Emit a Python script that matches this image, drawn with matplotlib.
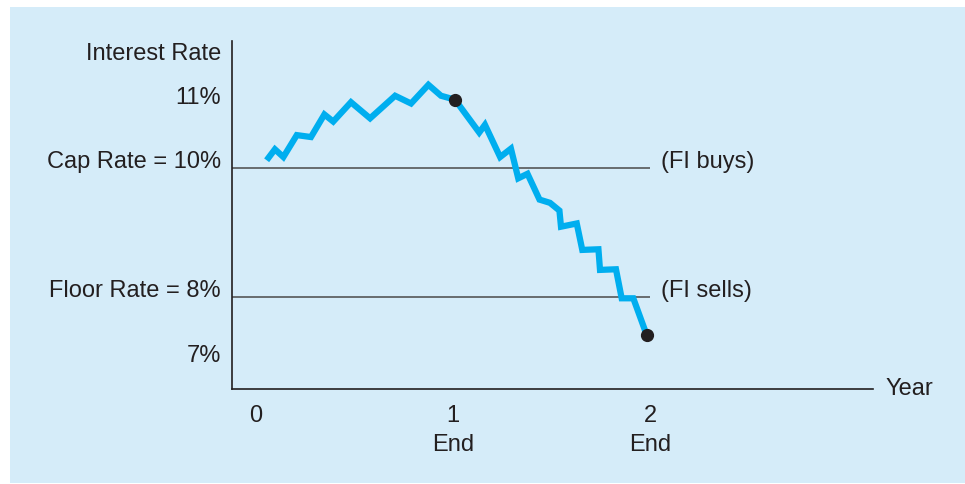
import matplotlib
matplotlib.use("Agg")
import matplotlib.pyplot as plt
from matplotlib.patches import Rectangle

plt.rcParams['font.family'] = ['Liberation Sans', 'DejaVu Sans']

# Data: years vs interest rate (%)
years = [0.054, 0.096, 0.139, 0.207, 0.279, 0.347, 0.392, 0.482, 0.579, 0.706,
         0.787, 0.875, 0.939, 1.01, 1.133, 1.162, 1.239, 1.294, 1.331, 1.378,
         1.439, 1.492, 1.54, 1.548, 1.628, 1.656, 1.738, 1.746, 1.827, 1.856,
         1.915, 1.983]
rates = [10.12, 10.29, 10.17, 10.51, 10.48, 10.83, 10.72, 11.02, 10.77, 11.12,
         11.00, 11.29, 11.12, 11.06, 10.55, 10.67, 10.17, 10.30, 9.84, 9.91,
         9.51, 9.46, 9.34, 9.09, 9.14, 8.73, 8.74, 8.42, 8.43, 7.98,
         7.98, 7.41]
marked_years = [1.01, 1.983]
marked_rates = [11.06, 7.41]

cap_rate = 10
floor_rate = 8
ref_end_year = 2.0

xtick_values = [0, 1, 2]
xtick_labels = ['0', '1', '2']
xtick_sublabels = ['', 'End', 'End']
ytick_values = [11, 10, 8, 7]
ytick_labels = ['11%', 'Cap Rate = 10%', 'Floor Rate = 8%', '7%']
ref_labels = ['(FI buys)', '(FI sells)']

TEXT = '#231F20'
BG = '#D5ECF9'
LINE = '#00AEEF'
FS = 17

W, H = 965, 484
fig = plt.figure(figsize=(W / 100, H / 100), dpi=100)
fig.patch.set_facecolor('white')
bg = Rectangle((10 / W, 1 / H), 955 / W, 476 / H,
               transform=fig.transFigure, facecolor=BG,
               edgecolor='none', zorder=-10)
fig.add_artist(bg)

ax = fig.add_axes([232 / W, (H - 389) / H, (872.7 - 232) / W, (389 - 41) / H])
ax.set_zorder(5)
ax.set_facecolor('none')
ax.set_xlim(-0.1218, 3.130)
ax.set_ylim(10 - (389 - 168) / 64.5, 10 + (168 - 41) / 64.5)

for s in ['top', 'right']:
    ax.spines[s].set_visible(False)
for s in ['left', 'bottom']:
    ax.spines[s].set_color(TEXT)
    ax.spines[s].set_linewidth(1.2)
ax.set_xticks([])
ax.set_yticks([])

# reference lines
ax.hlines([cap_rate, floor_rate], ax.get_xlim()[0], ref_end_year,
          color='#4a4a4a', linewidth=1.1, zorder=1)

# rate path
ax.plot(years, rates, color=LINE, linewidth=4.5, solid_joinstyle='miter',
        solid_capstyle='butt', zorder=2)
ax.plot(marked_years, marked_rates, 'o', color=TEXT, markersize=8.5, zorder=3)

# y labels
for yv, lab in zip(ytick_values, ytick_labels):
    ax.annotate(lab, xy=(0, yv), xycoords=('axes fraction', 'data'),
                xytext=(-8, 0), textcoords='offset points',
                ha='right', va='baseline', fontsize=FS, color=TEXT,
                annotation_clip=False)
ax.annotate('Interest Rate', xy=(0, 1), xycoords='axes fraction',
            xytext=(-8, -13.5), textcoords='offset points',
            ha='right', va='baseline', fontsize=FS, color=TEXT,
            annotation_clip=False)

# x labels
for xv, lab, sub in zip(xtick_values, xtick_labels, xtick_sublabels):
    ax.annotate(lab, xy=(xv, 0), xycoords=('data', 'axes fraction'),
                xytext=(0, -23.5), textcoords='offset points',
                ha='center', va='baseline', fontsize=FS, color=TEXT,
                annotation_clip=False)
    if sub:
        ax.annotate(sub, xy=(xv, 0), xycoords=('data', 'axes fraction'),
                    xytext=(0, -44.4), textcoords='offset points',
                    ha='center', va='baseline', fontsize=FS, color=TEXT,
                    annotation_clip=False)
ax.annotate('Year', xy=(1, 0), xycoords='axes fraction',
            xytext=(9, -4.3), textcoords='offset points',
            ha='left', va='baseline', fontsize=FS, color=TEXT,
            annotation_clip=False)

# reference line labels
for yv, lab in zip([cap_rate, floor_rate], ref_labels):
    ax.annotate(lab, xy=(ref_end_year, yv), xycoords='data',
                xytext=(8, 0), textcoords='offset points',
                ha='left', va='baseline', fontsize=FS, color=TEXT,
                annotation_clip=False)

fig.savefig('out.png', dpi=100, facecolor=fig.get_facecolor())
